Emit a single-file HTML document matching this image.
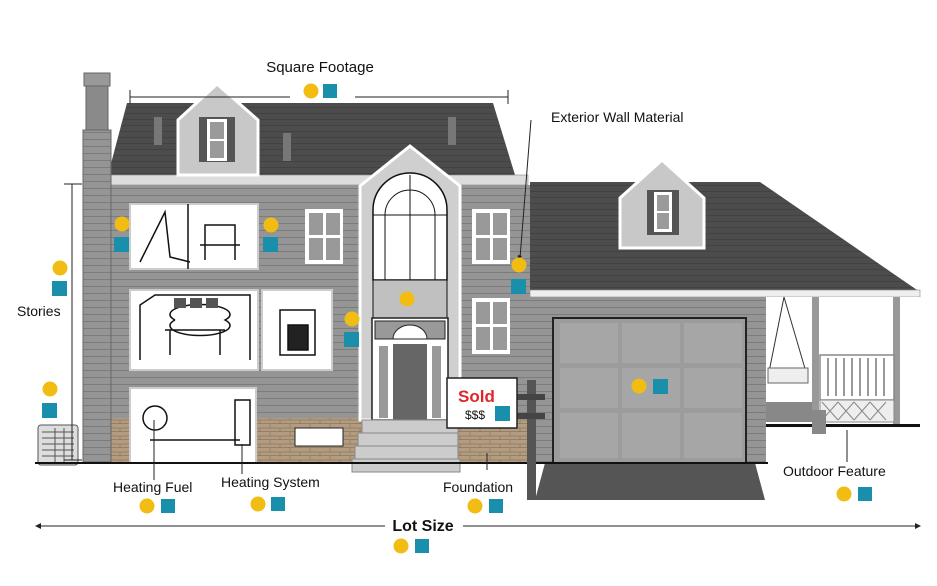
<!DOCTYPE html>
<html><head><meta charset="utf-8"><style>
html,body{margin:0;padding:0;background:#fff;width:937px;height:586px;overflow:hidden}
svg text{font-family:"Liberation Sans",sans-serif;fill:#111}
</style></head><body>
<svg width="937" height="586" viewBox="0 0 937 586" xmlns="http://www.w3.org/2000/svg">
<defs>
<pattern id="sid" width="10" height="7" patternUnits="userSpaceOnUse"><rect width="10" height="7" fill="#959595"/><rect y="6" width="10" height="1" fill="#7c7c7c"/></pattern>
<pattern id="brk" width="20" height="8" patternUnits="userSpaceOnUse"><rect width="20" height="8" fill="#b39c80"/><path d="M0 7.5H20M10 0V4M0 4H20M20 4V8M0 4V8" stroke="#8a7660" stroke-width="0.7"/></pattern>
<pattern id="rf" width="12" height="6" patternUnits="userSpaceOnUse"><rect width="12" height="6" fill="#4c4c4c"/><rect y="5" width="12" height="1" fill="#424242"/></pattern>
</defs>

<!-- garage roof -->
<polygon points="530,182 760,182 920,292 530,292" fill="url(#rf)"/>
<rect x="530" y="290" width="390" height="7" fill="#eee" stroke="#888" stroke-width="0.6"/>
<!-- garage dormer -->
<polygon points="620,198 662,160 704,198 704,248 620,248" fill="#c8c8c8" stroke="#fff" stroke-width="3"/>
<rect x="647" y="190" width="32" height="45" fill="#555"/>
<rect x="654" y="192" width="18" height="40" fill="#fff"/><rect x="657" y="195" width="12" height="16" fill="#9a9a9a"/><rect x="657" y="213" width="12" height="16" fill="#9a9a9a"/>
<!-- garage wall -->
<rect x="530" y="297" width="236" height="166" fill="url(#sid)"/>
<rect x="553" y="318" width="193" height="145" fill="#9c9c9c" stroke="#222" stroke-width="2"/>
<g fill="#a6a6a6"><rect x="560" y="323" width="58" height="40"/><rect x="622" y="323" width="58" height="40"/><rect x="684" y="323" width="58" height="40"/><rect x="560" y="368" width="58" height="40"/><rect x="622" y="368" width="58" height="40"/><rect x="684" y="368" width="58" height="40"/><rect x="560" y="413" width="58" height="45"/><rect x="622" y="413" width="58" height="45"/><rect x="684" y="413" width="58" height="45"/></g>
<polygon points="545,463 755,463 765,500 535,500" fill="#555"/>
<!-- porch -->
<rect x="766" y="297" width="154" height="128" fill="#fff"/>
<rect x="812" y="297" width="7" height="128" fill="#999"/><rect x="893" y="297" width="7" height="128" fill="#999"/>
<rect x="820" y="355" width="74" height="45" fill="#fff" stroke="#888" stroke-width="1.5"/>
<g stroke="#999" stroke-width="2"><path d="M828 358V396M836 358V396M844 358V396M852 358V396M860 358V396M868 358V396M876 358V396M884 358V396"/></g>
<rect x="820" y="400" width="74" height="22" fill="#eee" stroke="#888"/>
<path d="M822 402l16 18M838 402l16 18M854 402l16 18M870 402l16 18M838 402l-16 18M854 402l-16 18M870 402l-16 18M886 402l-16 18" stroke="#888"/>
<path d="M784 297l-15 75M784 297l22 75" stroke="#333"/>
<rect x="768" y="368" width="40" height="15" fill="#eee" stroke="#666"/>
<rect x="766" y="402" width="46" height="20" fill="#888"/>
<rect x="766" y="424" width="154" height="3" fill="#111"/>
<rect x="812" y="410" width="14" height="24" fill="#888"/>
<!-- main roof -->
<polygon points="127,103 493,103 515,175 108,175" fill="url(#rf)"/>
<rect x="108" y="175" width="420" height="10" fill="#ddd" stroke="#888" stroke-width="0.6"/>
<g fill="#777"><rect x="154" y="117" width="8" height="28"/><rect x="283" y="133" width="8" height="28"/><rect x="448" y="117" width="8" height="28"/></g>
<!-- dormer -->
<polygon points="178,120 217,84 258,120 258,175 178,175" fill="#c8c8c8" stroke="#fff" stroke-width="3"/>
<rect x="199" y="117" width="36" height="45" fill="#555"/>
<rect x="207" y="119" width="20" height="42" fill="#fff"/><rect x="210" y="122" width="14" height="17" fill="#9a9a9a"/><rect x="210" y="141" width="14" height="17" fill="#9a9a9a"/>
<!-- wall -->
<rect x="108" y="185" width="422" height="278" fill="url(#sid)"/>
<rect x="108" y="418" width="420" height="45" fill="url(#brk)"/>
<!-- chimney -->
<rect x="83" y="130" width="28" height="333" fill="url(#sid)" stroke="#666"/>
<rect x="86" y="86" width="22" height="44" fill="#8a8a8a" stroke="#666"/>
<rect x="84" y="73" width="26" height="13" fill="#999" stroke="#666"/>
<!-- windows with drawings -->
<g fill="#fff" stroke="#ccc" stroke-width="2">
<rect x="130" y="204" width="128" height="65"/>
<rect x="130" y="290" width="128" height="80"/>
<rect x="262" y="290" width="70" height="80"/>
<rect x="130" y="388" width="126" height="75"/>
</g>
<g stroke="#111" fill="none" stroke-width="1.5">
<path d="M188 204V269M140 262l25-50 5 45 20 5M205 260v-35h30v35M200 245h40"/>
<path d="M140 360V305l15-10h95l0 65M165 330h60M175 320a30 10 0 1 0 50 0a30 10 0 1 0 -50 0M170 355v-25M220 355v-25"/>
<rect x="280" y="310" width="35" height="45"/><rect x="288" y="325" width="20" height="25" fill="#222"/>
<circle cx="155" cy="418" r="12"/><path d="M150 440h90M235 400h15v45h-15z"/>
</g>
<g fill="#555"><rect x="174" y="298" width="12" height="10"/><rect x="190" y="298" width="12" height="10"/><rect x="206" y="298" width="12" height="10"/></g>
<!-- regular windows -->
<g fill="#fff"><rect x="305" y="209" width="38" height="55"/><rect x="472" y="209" width="38" height="55"/><rect x="472" y="298" width="38" height="56"/><rect x="295" y="428" width="48" height="18" stroke="#222"/></g>
<g fill="#999"><rect x="309" y="213" width="14" height="22"/><rect x="326" y="213" width="14" height="22"/><rect x="309" y="238" width="14" height="22"/><rect x="326" y="238" width="14" height="22"/>
<rect x="476" y="213" width="14" height="22"/><rect x="493" y="213" width="14" height="22"/><rect x="476" y="238" width="14" height="22"/><rect x="493" y="238" width="14" height="22"/>
<rect x="476" y="302" width="14" height="22"/><rect x="493" y="302" width="14" height="22"/><rect x="476" y="327" width="14" height="23"/><rect x="493" y="327" width="14" height="23"/></g>
<!-- central tower -->
<polygon points="360,186 410,146 460,186 460,420 360,420" fill="#cfcfcf" stroke="#fff" stroke-width="3"/>
<path d="M373,280 V210 A37 37 0 0 1 447,210 V280 Z" fill="#fff" stroke="#111" stroke-width="1.5"/>
<path d="M385 280V215a25 25 0 0 1 50 0V280M373 215h74M410 175V280" stroke="#111" fill="none"/>
<rect x="373" y="280" width="74" height="38" fill="#c0c0c0" stroke="#111"/>
<rect x="372" y="318" width="76" height="102" fill="#fff" stroke="#222" stroke-width="1.5"/>
<rect x="375" y="321" width="70" height="18" fill="#999" stroke="#222"/>
<path d="M393 339a17 14 0 0 1 34 0z" fill="#fff" stroke="#222"/>
<rect x="393" y="344" width="34" height="76" fill="#666"/>
<rect x="379" y="346" width="9" height="72" fill="#999"/><rect x="432" y="346" width="9" height="72" fill="#999"/>
<!-- steps -->
<rect x="362" y="420" width="96" height="13" fill="#ccc" stroke="#888"/>
<rect x="358" y="433" width="100" height="13" fill="#ccc" stroke="#888"/>
<rect x="355" y="446" width="103" height="13" fill="#ccc" stroke="#888"/>
<rect x="352" y="459" width="108" height="13" fill="#ccc" stroke="#888"/>
<!-- AC unit -->
<rect x="38" y="425" width="40" height="40" rx="3" fill="#ddd" stroke="#555"/>
<path d="M42 432h32M42 438h32M42 444h32M42 450h32M42 456h32M55 428v34M64 428v34" stroke="#555"/>
<rect x="35" y="462" width="733" height="2" fill="#111"/>
<!-- sold sign -->
<rect x="527" y="380" width="9" height="120" fill="#555"/>
<rect x="510" y="394" width="35" height="6" fill="#444"/><rect x="510" y="413" width="35" height="6" fill="#444"/>
<rect x="447" y="378" width="70" height="50" fill="#fff" stroke="#222" stroke-width="1.5"/>
<text x="458" y="402" font-size="17" font-weight="bold" style="fill:#e0262b">Sold</text>
<text x="465" y="419" font-size="12">$$$</text>
<rect x="495" y="406" width="15" height="15" fill="#1a8fac"/>
<!-- dimension lines -->
<g stroke="#222" stroke-width="1" fill="none">
<path d="M130 97H290M355 97H508M130 90V104M508 90V104"/>
<path d="M72 184V460M64 184H82M64 460H82"/>
<path d="M38 526H385M463 526H918"/>
<path d="M531 120L520 258M487 470V453M847 462V430M154 480V420M242 474V444"/>
</g>
<g fill="#222"><path d="M35 526l6-3v6z"/><path d="M921 526l-6-3v6z"/><path d="M517 262l1-7 4 1z"/></g>
<!-- labels -->
<text x="320" y="72" font-size="15" text-anchor="middle">Square Footage</text>
<text x="551" y="122" font-size="14">Exterior Wall Material</text>
<text x="17" y="316" font-size="14">Stories</text>
<text x="113" y="492" font-size="14">Heating Fuel</text>
<text x="221" y="487" font-size="14">Heating System</text>
<text x="443" y="492" font-size="14">Foundation</text>
<text x="783" y="476" font-size="14">Outdoor Feature</text>
<text x="423" y="531" font-size="16" font-weight="bold" text-anchor="middle">Lot Size</text>
<!-- markers -->
<g fill="#f2bd12">
<circle cx="311" cy="91" r="7.5"/><circle cx="60" cy="268" r="7.5"/><circle cx="50" cy="389" r="7.5"/><circle cx="122" cy="224" r="7.5"/><circle cx="271" cy="225" r="7.5"/><circle cx="352" cy="319" r="7.5"/><circle cx="407" cy="299" r="7.5"/><circle cx="519" cy="265" r="7.5"/><circle cx="639" cy="386" r="7.5"/><circle cx="147" cy="506" r="7.5"/><circle cx="258" cy="504" r="7.5"/><circle cx="475" cy="506" r="7.5"/><circle cx="844" cy="494" r="7.5"/><circle cx="401" cy="546" r="7.5"/>
</g>
<g fill="#1a8fac">
<rect x="323" y="84" width="14" height="14"/><rect x="52" y="281" width="15" height="15"/><rect x="42" y="403" width="15" height="15"/><rect x="114" y="237" width="15" height="15"/><rect x="263" y="237" width="15" height="15"/><rect x="344" y="332" width="15" height="15"/><rect x="511" y="279" width="15" height="15"/><rect x="653" y="379" width="15" height="15"/><rect x="161" y="499" width="14" height="14"/><rect x="271" y="497" width="14" height="14"/><rect x="489" y="499" width="14" height="14"/><rect x="858" y="487" width="14" height="14"/><rect x="415" y="539" width="14" height="14"/>
</g>
</svg>
</body></html>
